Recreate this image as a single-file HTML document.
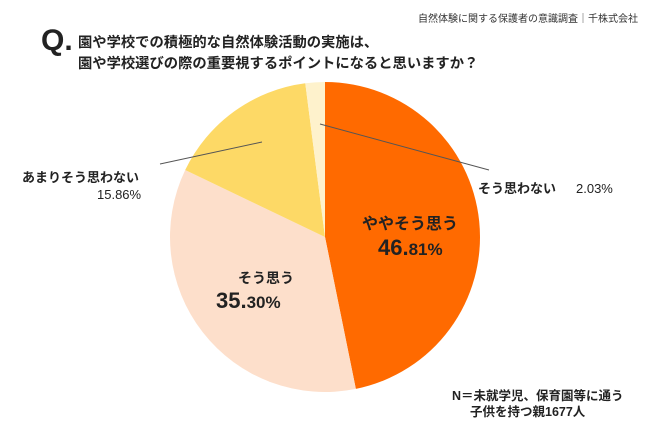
<!DOCTYPE html>
<html><head><meta charset="utf-8"><style>
body{margin:0;width:650px;height:427px;background:#fff;overflow:hidden;font-family:"Liberation Sans","Noto Sans CJK JP",sans-serif;}
svg text{font-family:"Liberation Sans","Noto Sans CJK JP",sans-serif;}
</style></head><body>
<svg width="650" height="427">
<text x="638" y="22" font-size="10" text-anchor="end" fill="#333">自然体験に関する保護者の意識調査｜千株式会社</text>
<text x="41" y="50" font-size="30" font-weight="bold" fill="#222">Q.</text>
<text x="78" y="47" font-size="14.3" font-weight="bold" fill="#222">園や学校での積極的な自然体験活動の実施は、</text>
<text x="78" y="68" font-size="14.3" font-weight="bold" fill="#222">園や学校選びの際の重要視するポイントになると思いますか？</text>
<g id="slices"></g>
<line x1="320" y1="124" x2="489" y2="170" stroke="#555" stroke-width="1"/>
<line x1="262" y1="142" x2="160" y2="164" stroke="#555" stroke-width="1"/>
<text x="362" y="229" font-size="16" font-weight="bold" fill="#222">ややそう思う</text>
<text x="378" y="255" font-weight="bold" fill="#222"><tspan font-size="22">46.</tspan><tspan font-size="17">81%</tspan></text>
<text x="238" y="283" font-size="14" font-weight="bold" fill="#222">そう思う</text>
<text x="216" y="308" font-weight="bold" fill="#222"><tspan font-size="22">35.</tspan><tspan font-size="17">30%</tspan></text>
<text x="22" y="182" font-size="13" font-weight="bold" fill="#222">あまりそう思わない</text>
<text x="97" y="199" font-size="13" fill="#222">15.86%</text>
<text x="478" y="193" font-size="13" font-weight="bold" fill="#222">そう思わない</text>
<text x="576" y="193" font-size="13" fill="#222">2.03%</text>
<text x="452" y="400" font-size="12.5" font-weight="bold" fill="#222">N＝未就学児、保育園等に通う</text>
<text x="470" y="416" font-size="12.5" font-weight="bold" fill="#222">子供を持つ親1677人</text>
</svg>
<script>
const categories=["ややそう思う","そう思う","あまりそう思わない","そう思わない"];
const values=[46.81,35.30,15.86,2.03];
const colors=["#FF6A00","#FDDFCB","#FDD966","#FEF2CC"];
const cx=325,cy=237,r=155;
const g=document.getElementById('slices');
const total=values.reduce((a,b)=>a+b,0);
let a0=0;
values.forEach((v,i)=>{
  const a1=a0+v/total*2*Math.PI;
  const p=(a)=>[cx+r*Math.sin(a),cy-r*Math.cos(a)];
  const [x0,y0]=p(a0),[x1,y1]=p(a1);
  const path=document.createElementNS('http://www.w3.org/2000/svg','path');
  path.setAttribute('d',`M${cx},${cy}L${x0},${y0}A${r},${r} 0 ${a1-a0>Math.PI?1:0} 1 ${x1},${y1}Z`);
  path.setAttribute('fill',colors[i]);
  
  
  g.appendChild(path);
  a0=a1;
});
</script>
</body></html>
